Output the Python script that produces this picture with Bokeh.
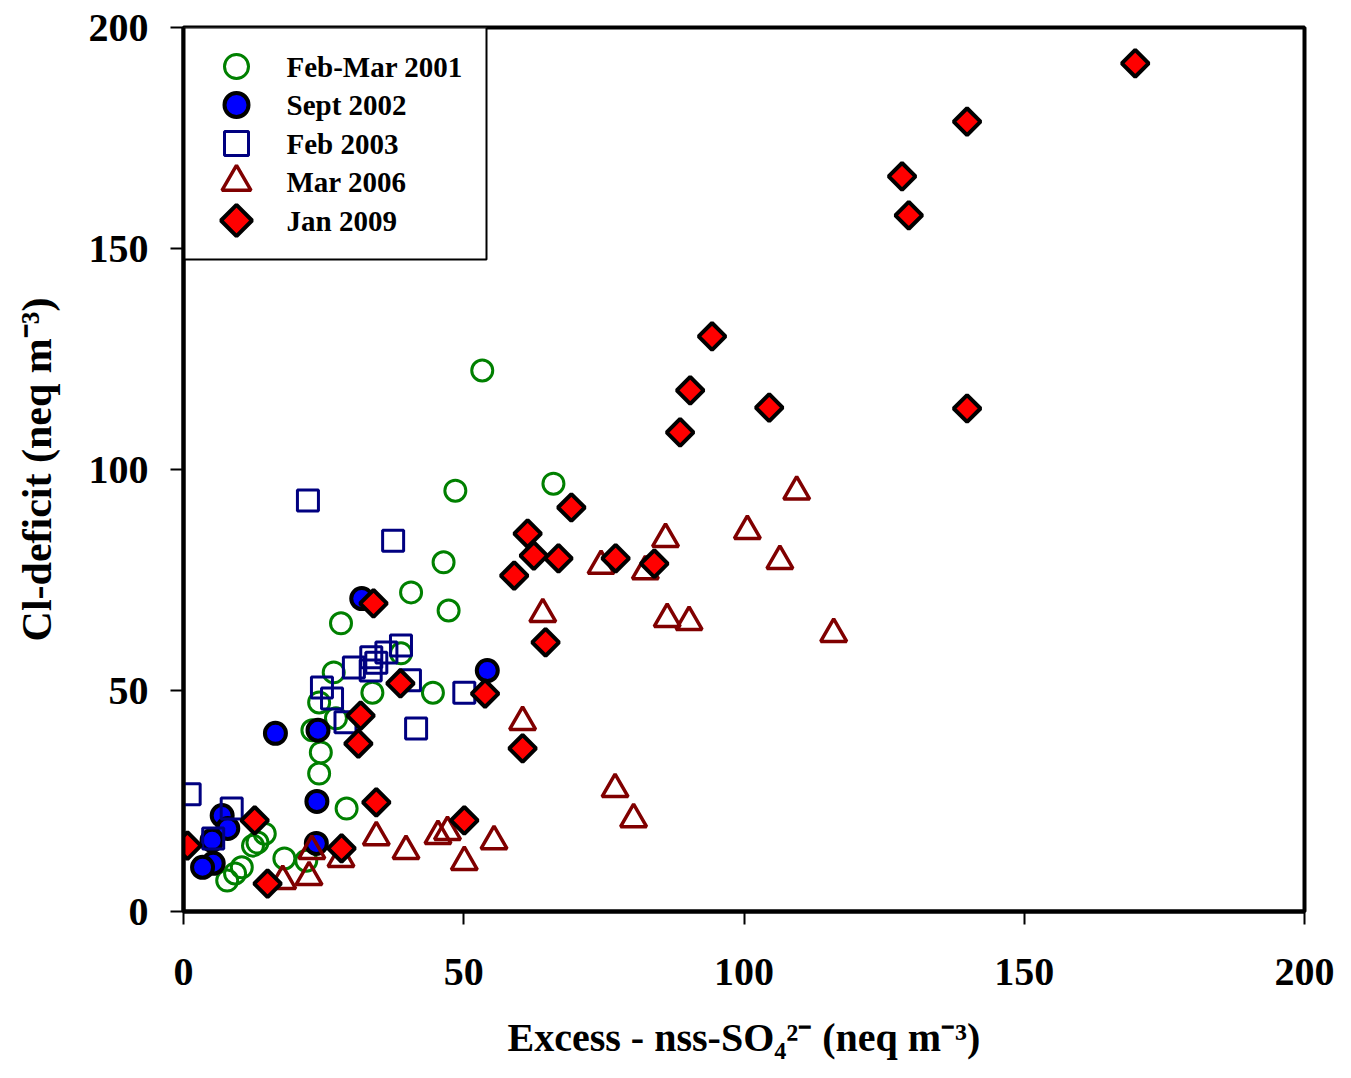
import math
from bokeh.plotting import figure
from bokeh.models import FixedTicker, Range1d
from bokeh.core.properties import value
from bokeh.embed import file_html
from bokeh.resources import INLINE

# ---- data ----
x_ticks = [0, 50, 100, 150, 200]
y_ticks = [0, 50, 100, 150, 200]

series_names = ["Feb-Mar 2001", "Sept 2002", "Feb 2003", "Mar 2006", "Jan 2009"]

feb2001_x = [53.3, 66.0, 48.5, 46.4, 40.6, 47.3, 28.1, 44.5, 33.7, 26.8, 38.8, 24.2,
             23.0, 24.5, 24.2, 29.1, 14.5, 13.2, 12.4, 18.0, 21.9, 10.4, 9.2, 7.8, 27.2]
feb2001_y = [122.4, 96.8, 95.2, 79.0, 72.2, 68.1, 65.2, 49.5, 49.5, 54.1, 58.4, 47.3,
             41.0, 36.0, 31.2, 23.3, 17.6, 15.6, 14.9, 12.0, 11.5, 10.0, 8.6, 7.0, 43.7]

sep2002_x = [31.8, 54.2, 16.4, 24.0, 23.8, 23.7, 6.9, 7.9, 5.1, 5.3, 3.4]
sep2002_y = [70.8, 54.5, 40.3, 41.0, 24.9, 15.4, 21.7, 18.8, 16.1, 10.9, 10.0]

feb2003_x = [22.2, 37.4, 1.1, 8.6, 5.3, 24.7, 26.5, 28.9, 30.4, 33.4, 33.5, 36.2,
             38.8, 40.4, 41.5, 50.1, 34.4]
feb2003_y = [93.0, 83.9, 26.5, 23.3, 16.5, 50.7, 48.2, 42.8, 55.2, 54.5, 57.5, 58.6,
             60.2, 52.3, 41.4, 49.5, 56.3]

mar2006_x = [109.4, 100.6, 106.4, 86.0, 74.5, 82.4, 64.1, 86.3, 90.2, 116.0, 60.5, 77.0,
             80.3, 55.4, 50.1, 45.4, 47.1, 34.4, 39.7, 22.9, 22.4, 28.1, 17.7]
mar2006_y = [95.0, 86.1, 79.3, 84.3, 78.2, 77.0, 67.3, 66.2, 65.5, 62.8, 42.9, 27.7,
             20.9, 15.9, 11.2, 17.1, 18.0, 16.8, 13.7, 13.7, 7.8, 11.9, 6.9]

jan2009_x = [169.8, 139.8, 128.2, 129.4, 94.3, 90.4, 104.5, 139.8, 88.6, 69.2, 61.4, 62.5,
             66.9, 59.0, 77.1, 84.0, 64.6, 53.8, 60.5, 50.1, 33.9, 38.7, 31.6, 31.2,
             34.4, 28.2, 12.7, 0.7, 15.0]
jan2009_y = [191.9, 178.7, 166.3, 157.5, 130.1, 117.9, 114.0, 113.8, 108.4, 91.4, 85.5, 80.5,
             79.9, 76.0, 79.9, 78.7, 60.9, 49.3, 36.9, 20.6, 69.7, 51.6, 44.3, 38.0,
             24.7, 14.3, 20.6, 14.9, 6.3]

x_label = "Excess - nss-SO\u2084\u00b2\u207b (neq m\u207b\u00b3)"
y_label = "Cl-deficit (neq m\u207b\u00b3)"

FONT = "Liberation Serif"

# ---- layout ----
W, H = 1335, 1062
B_LEFT, B_RIGHT, B_TOP, B_BOTTOM = 183, 31, 27, 151
X0, X1, Y0, Y1 = 0, 200, 0, 200
frame_w = W - B_LEFT - B_RIGHT
frame_h = H - B_TOP - B_BOTTOM
ux = (X1 - X0) / frame_w   # data units per pixel
uy = (Y1 - Y0) / frame_h

p = figure(width=W, height=H, output_backend="svg", toolbar_location=None,
           x_range=Range1d(X0, X1), y_range=Range1d(Y0, Y1),
           min_border_left=B_LEFT, min_border_right=B_RIGHT,
           min_border_top=B_TOP, min_border_bottom=B_BOTTOM)
p.xgrid.visible = False
p.ygrid.visible = False
p.outline_line_color = "black"
p.outline_line_width = 4
p.background_fill_color = "white"
p.border_fill_color = "white"

p.xaxis.ticker = FixedTicker(ticks=x_ticks)
p.yaxis.ticker = FixedTicker(ticks=y_ticks)
for ax in (p.xaxis[0], p.yaxis[0]):
    ax.axis_line_width = 4
    ax.axis_line_color = "black"
    ax.major_tick_line_width = 2
    ax.major_tick_out = 13
    ax.major_tick_in = 0
    ax.minor_tick_out = 0
    ax.minor_tick_in = 0
    ax.major_label_text_font = FONT
    ax.major_label_text_font_style = "bold"
    ax.major_label_text_font_size = "40px"
    ax.major_label_text_color = "black"
    ax.axis_label_text_font = FONT
    ax.axis_label_text_font_style = "bold"
    ax.axis_label_text_color = "black"
p.xaxis.axis_label_text_font_size = "40px"
p.yaxis.axis_label_text_font_size = "42px"
p.xaxis.major_label_standoff = 34
p.yaxis.major_label_standoff = 22
p.xaxis.axis_label = x_label
p.yaxis.axis_label = y_label
p.xaxis.axis_label_standoff = 27
p.yaxis.axis_label_standoff = 26

# ---- legend box (drawn first, under everything) ----
LEG_W_PX, LEG_H_PX = 303, 232
LEG_KEY_PX, LEG_TEXT_PX, LEG_ROW0_PX, LEG_PITCH_PX = 53, 103, 39, 38.5
p.quad(left=[X0], right=[X0 + LEG_W_PX * ux], top=[Y1], bottom=[Y1 - LEG_H_PX * uy],
       fill_color="white", line_color="black", line_width=2)

styles = [
    dict(marker="circle", size=21, fill_alpha=0, line_color="#008000", line_width=3),
    dict(marker="circle", size=21, fill_color="#0000FF", line_color="black", line_width=4),
    dict(marker="square", size=21, fill_alpha=0, line_color="#000080", line_width=3),
    dict(marker="triangle", size=26, fill_alpha=0, line_color="#800000", line_width=3.5),
    dict(marker="square", size=19, angle=math.pi / 4, fill_color="#FF0000",
         line_color="black", line_width=4),
]
xs = [feb2001_x, sep2002_x, feb2003_x, mar2006_x, jan2009_x]
ys = [feb2001_y, sep2002_y, feb2003_y, mar2006_y, jan2009_y]

for sx, sy, st in zip(xs, ys, styles):
    p.scatter(sx, sy, **st)

# ---- legend keys and labels ----
for i, (name, st) in enumerate(zip(series_names, styles)):
    ky = Y1 - (LEG_ROW0_PX + i * LEG_PITCH_PX) * uy
    kst = dict(st)
    kst["size"] = st["size"] + 3
    p.scatter([X0 + LEG_KEY_PX * ux], [ky], **kst)
    p.text([X0 + LEG_TEXT_PX * ux], [ky], text=[name], text_font=value(FONT),
           text_font_style="bold", text_font_size="29px", text_color="black",
           text_baseline="middle", text_align="left")

open("out.html", "w").write(file_html(p, INLINE))
